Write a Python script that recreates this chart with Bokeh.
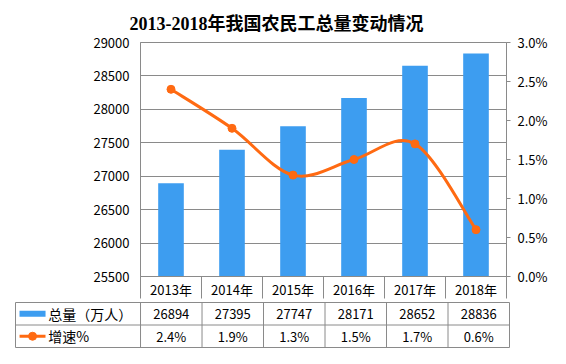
from bokeh.plotting import figure
from bokeh.models import Range1d, LinearAxis, FixedTicker, PrintfTickFormatter
from bokeh.layouts import column
from bokeh.embed import file_html
from bokeh.resources import INLINE
from bokeh.core.properties import value

# ---------------- data ----------------
years = ["2013年", "2014年", "2015年", "2016年", "2017年", "2018年"]
total = [26894, 27395, 27747, 28171, 28652, 28836]
growth = [2.4, 1.9, 1.3, 1.5, 1.7, 0.6]
left_ticks = [25500, 26000, 26500, 27000, 27500, 28000, 28500, 29000]
right_ticks = [0.0, 0.5, 1.0, 1.5, 2.0, 2.5, 3.0]
series_names = ["总量（万人）", "增速%"]
title_text = "2013-2018年我国农民工总量变动情况"

# ---------------- style ----------------
BAR = "#3D9DF0"
ORANGE = "#FF6A12"
GRAY = "#8A8A8A"
FONT = "Noto Sans CJK SC"
FS = "13px"
W = 550

n = len(years)
xs = [i + 0.5 for i in range(n)]

# ---------------- chart ----------------
p = figure(width=W, height=301,
           x_range=Range1d(0, n),
           y_range=Range1d(left_ticks[0], left_ticks[-1]),
           output_backend="svg", toolbar_location=None,
           min_border_left=140, min_border_right=41,
           min_border_top=42, min_border_bottom=21,
           frame_align=False)
p.background_fill_color = "white"
p.border_fill_color = "white"
p.outline_line_color = GRAY

p.extra_y_ranges = {"pct": Range1d(right_ticks[0], right_ticks[-1])}

# title
p.title.text = title_text
p.title.align = "left"
p.title.offset = -11
p.title.text_font = "Liberation Serif, Noto Sans CJK SC"
p.title.text_font_size = "18px"
p.title.text_font_style = "bold"
p.title.text_color = "black"
p.title.standoff = 17

# left axis
ya = p.yaxis[0]
ya.ticker = FixedTicker(ticks=left_ticks)
ya.axis_line_color = GRAY
ya.major_tick_out = 0
ya.major_tick_in = 0
ya.minor_tick_line_color = None
ya.major_label_standoff = 11
ya.major_label_text_font = FONT
ya.major_label_text_font_size = FS
ya.major_label_text_color = "black"

# right axis
ra = LinearAxis(y_range_name="pct",
                ticker=FixedTicker(ticks=right_ticks),
                formatter=PrintfTickFormatter(format="%.1f%%"))
ra.axis_line_color = GRAY
ra.major_tick_line_color = GRAY
ra.major_tick_out = 4
ra.major_tick_in = 0
ra.minor_tick_line_color = None
ra.major_label_standoff = 7
ra.major_label_text_font = FONT
ra.major_label_text_font_size = FS
ra.major_label_text_color = "black"
p.add_layout(ra, "right")

# bottom axis = header row of the table (minor ticks = cell separators)
xa = p.xaxis[0]
xa.ticker = FixedTicker(ticks=xs, minor_ticks=list(range(n + 1)))
xa.major_label_overrides = {x: y for x, y in zip(xs, years)}
xa.axis_line_color = GRAY
xa.major_tick_out = 0
xa.major_tick_in = 0
xa.minor_tick_out = 22
xa.minor_tick_in = 0
xa.minor_tick_line_color = GRAY
xa.major_label_standoff = -19
xa.major_label_text_font = FONT
xa.major_label_text_font_size = FS
xa.major_label_text_color = "black"

p.xgrid.visible = False
p.ygrid.ticker = FixedTicker(ticks=left_ticks)
p.ygrid.grid_line_color = GRAY
p.ygrid.grid_line_width = 1

p.vbar(x=xs, top=total, bottom=left_ticks[0], width=0.42,
       fill_color=BAR, line_color=None)

# smooth line via Catmull-Rom -> cubic Bezier segments
pts = list(zip(xs, growth))
bx0, by0, bx1, by1, cx0, cy0, cx1, cy1 = ([] for _ in range(8))
for i in range(n - 1):
    a = pts[max(i - 1, 0)]
    b = pts[i]
    c = pts[i + 1]
    d = pts[min(i + 2, n - 1)]
    bx0.append(b[0]); by0.append(b[1])
    bx1.append(c[0]); by1.append(c[1])
    cx0.append(b[0] + (c[0] - a[0]) / 6); cy0.append(b[1] + (c[1] - a[1]) / 6)
    cx1.append(c[0] - (d[0] - b[0]) / 6); cy1.append(c[1] - (d[1] - b[1]) / 6)
p.bezier(x0=bx0, y0=by0, x1=bx1, y1=by1, cx0=cx0, cy0=cy0, cx1=cx1, cy1=cy1,
         line_color=ORANGE, line_width=3, y_range_name="pct")
p.scatter(x=xs, y=growth, size=8, fill_color=ORANGE, line_color=ORANGE,
          y_range_name="pct")

# ---------------- table ----------------
LEFT = -2.033
t = figure(width=W, height=47,
           x_range=Range1d(LEFT, n), y_range=Range1d(0, 2),
           output_backend="svg", toolbar_location=None,
           x_axis_location=None, y_axis_location=None,
           min_border_left=15, min_border_right=41,
           min_border_top=1, min_border_bottom=1,
           frame_align=False)
t.grid.visible = False
t.outline_line_color = GRAY
t.background_fill_color = "white"
t.border_fill_color = "white"

t.segment(x0=[LEFT], y0=[1], x1=[n], y1=[1], line_color=GRAY, line_width=1)
t.segment(x0=list(range(n)), y0=[0] * n, x1=list(range(n)), y1=[2] * n,
          line_color=GRAY, line_width=1)

t.text(x=xs, y=[1.5] * n, text=[str(v) for v in total],
       text_align="center", text_baseline="middle",
       text_font=value(FONT), text_font_size=FS, text_color="black")
t.text(x=xs, y=[0.5] * n, text=[f"{g:.1f}%" for g in growth],
       text_align="center", text_baseline="middle",
       text_font=value(FONT), text_font_size=FS, text_color="black")

# legend keys
t.rect(x=[-1.756], y=[1.5], width=[0.423], height=[6], height_units="screen",
       fill_color=BAR, line_color=None)
t.segment(x0=[-1.967], y0=[0.5], x1=[-1.545], y1=[0.5],
          line_color=ORANGE, line_width=3)
t.scatter(x=[-1.756], y=[0.5], size=8, fill_color=ORANGE, line_color=ORANGE)
t.text(x=[-1.50, -1.50], y=[1.5, 0.5], text=series_names,
       text_align="left", text_baseline="middle",
       text_font=value(FONT), text_font_size="14px", text_color="black")

layout = column(p, t, spacing=0)
open("out.html", "w").write(file_html(layout, INLINE))
